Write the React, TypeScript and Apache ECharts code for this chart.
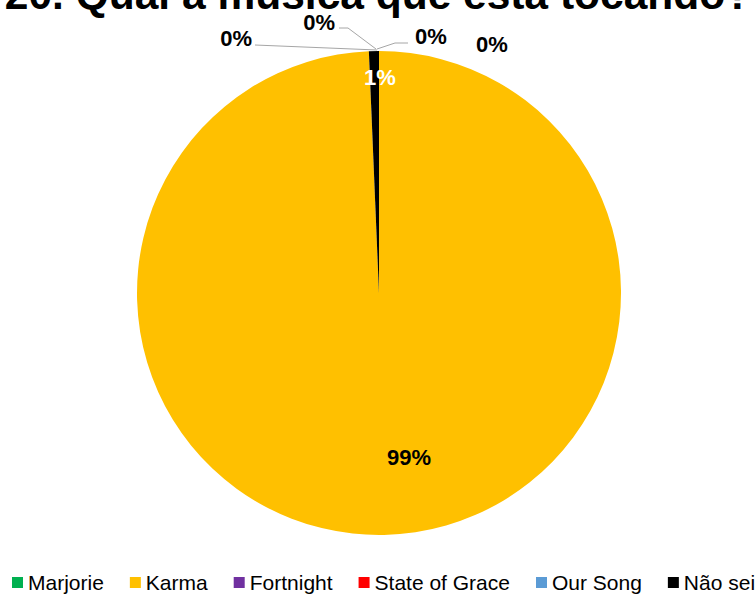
import React, { useEffect, useRef } from "react";
import * as echarts from "echarts";

const TITLE = "20. Qual a música que está tocando?";
const categories = ["Marjorie", "Karma", "Fortnight", "State of Grace", "Our Song", "Não sei"];
const values = [0, 149, 0, 0, 0, 1];
const colors = ["#00b050", "#ffc000", "#7030a0", "#ff0000", "#5b9bd5", "#000000"];

const FONT = "'Liberation Sans', Arial, sans-serif";
const CX = 379;
const CY = 293;
const R = 242;

// label placement (relative to pie centre), index-aligned with categories
const labelPlacement: Record<number, { x: number; y: number; align: string; line?: number[][] }> = {
  0: { x: -127, y: -255, align: "right", line: [[-2, -243], [-124, -248], [-124, -248]] },
  1: { x: 30, y: 164, align: "center" },
  2: { x: -44, y: -271, align: "right", line: [[-3, -244], [-31, -265], [-40, -265]] },
  3: { x: 36, y: -257, align: "left", line: [[-2, -244], [16, -250], [29, -250]] },
  4: { x: 97, y: -249, align: "left" },
  5: { x: 1, y: -216, align: "center" },
};

export default function App() {
  const ref = useRef<HTMLDivElement>(null);
  useEffect(() => {
    if (!ref.current) return;
    const chart = echarts.init(ref.current, undefined, { renderer: "svg" });
    const data = categories.map((name, i) => {
      const inside = i === 1 || i === 5;
      return {
        name,
        value: values[i],
        itemStyle: { color: colors[i] },
        label: {
          position: inside ? "inside" : "outside",
          color: i === 5 ? "#ffffff" : "#000000",
        },
        labelLine: { show: !inside && i !== 4 },
      };
    });
    chart.setOption({
      animation: false,
      textStyle: { fontFamily: FONT },
      title: {
        text: TITLE,
        left: "center",
        top: -27,
        padding: 0,
        textStyle: { fontFamily: FONT, fontSize: 42.5, fontWeight: "bold", color: "#000" },
      },
      legend: {
        data: categories,
        left: 12,
        top: 572,
        padding: 0,
        icon: "rect",
        itemWidth: 11,
        itemHeight: 11,
        itemGap: 26,
        textStyle: { fontFamily: FONT, fontSize: 21, color: "#000" },
      },
      series: [
        {
          type: "pie",
          center: [CX, CY],
          radius: R,
          startAngle: 90,
          clockwise: true,
          percentPrecision: 0,
          avoidLabelOverlap: false,
          emphasis: { disabled: true },
          label: {
            show: true,
            formatter: "{d}%",
            fontFamily: FONT,
            fontSize: 22,
            fontWeight: "bold",
          },
          labelLine: { lineStyle: { color: "#a6a6a6", width: 1 } },
          labelLayout: (params: any) => {
            const p = labelPlacement[params.dataIndex];
            if (!p) return {};
            const out: any = {
              x: CX + p.x,
              y: CY + p.y,
              align: p.align,
              verticalAlign: "middle",
            };
            if (p.line) out.labelLinePoints = p.line.map(([dx, dy]) => [CX + dx, CY + dy]);
            return out;
          },
          data,
        },
      ],
    });
    return () => chart.dispose();
  }, []);
  return (
    <div
      ref={ref}
      style={{ position: "fixed", left: 0, top: 0, width: 756, height: 594, background: "#fff" }}
    />
  );
}
